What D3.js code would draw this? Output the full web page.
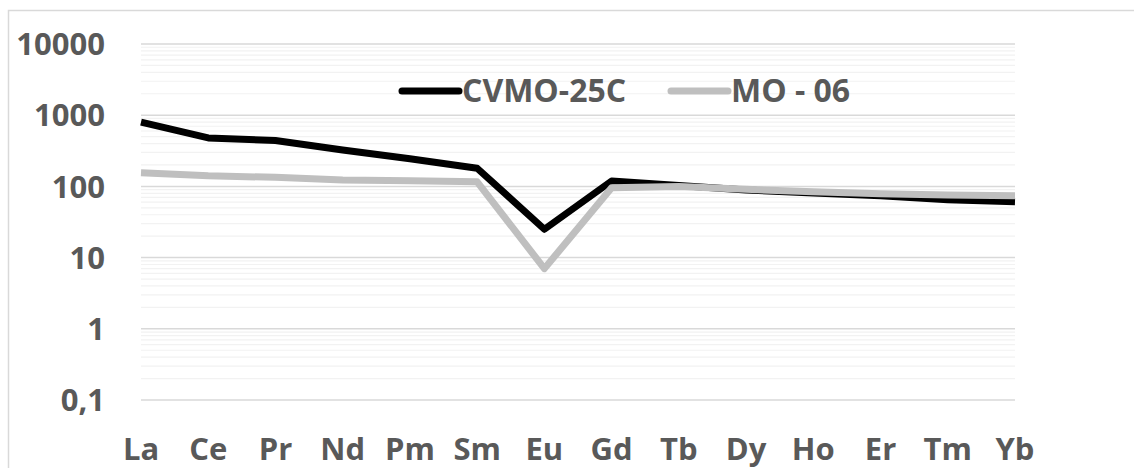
<!DOCTYPE html>
<html lang="en">
<head>
    <meta charset="UTF-8">
    <title>REE pattern</title>
    <style>
        body {
            margin: 0;
            padding: 0;
            overflow: hidden;
            background-color: #ffffff;
        }
        text {
            font-family: "Open Sans", "Noto Sans", sans-serif;
            font-weight: bold;
            fill: #595959;
        }
    </style>
</head>
<body>
    <div id="chart"></div>

    <script src="https://d3js.org/d3.v7.min.js"></script>
    <script>
        // Data
        const elements = ["La", "Ce", "Pr", "Nd", "Pm", "Sm", "Eu", "Gd", "Tb", "Dy", "Ho", "Er", "Tm", "Yb"];
        const cvmo25c = [800, 480, 440, 325, 245, 180, 25, 119, 103, 89, 81, 74, 65, 61];
        const mo06 = [156, 141, 134, 123, 120, 116, 7, 96, 100, 91, 84, 79, 76, 74];
        const yTicks = [0.1, 1, 10, 100, 1000, 10000];
        const yTickLabels = ["0,1", "1", "10", "100", "1000", "10000"];

        const series = [
            { name: "CVMO-25C", values: cvmo25c, color: "#000000" },
            { name: "MO - 06", values: mo06, color: "#bfbfbf" }
        ];

        const width = 1134;
        const height = 468;
        const margin = { left: 141, right: 1015, top: 44, bottom: 400 };

        const svg = d3.select("#chart")
            .append("svg")
            .attr("width", width)
            .attr("height", height);

        // chart frame (runs off the right and bottom edge in the reference)
        svg.append("rect")
            .attr("x", 8.5)
            .attr("y", 10.5)
            .attr("width", 1200)
            .attr("height", 600)
            .attr("fill", "none")
            .attr("stroke", "#d9d9d9")
            .attr("stroke-width", 1.5);

        const x = d3.scalePoint()
            .domain(elements)
            .range([margin.left, margin.right]);

        const y = d3.scaleLog()
            .domain([0.1, 10000])
            .range([margin.bottom, margin.top]);

        // minor gridlines (2..9 of each decade)
        const minor = [];
        for (let d = 0.1; d < 10000; d *= 10) {
            for (let k = 2; k <= 9; k++) minor.push(+(d * k).toPrecision(3));
        }

        const grid = svg.append("g");
        grid.selectAll(".minor")
            .data(minor)
            .enter()
            .append("line")
            .attr("x1", margin.left)
            .attr("x2", margin.right)
            .attr("y1", d => y(d))
            .attr("y2", d => y(d))
            .attr("stroke", "#f2f2f2")
            .attr("stroke-width", 1.2);

        grid.selectAll(".major")
            .data(yTicks)
            .enter()
            .append("line")
            .attr("x1", margin.left)
            .attr("x2", margin.right)
            .attr("y1", d => y(d))
            .attr("y2", d => y(d))
            .attr("stroke", "#d9d9d9")
            .attr("stroke-width", 1.5);

        // y axis labels
        svg.append("g")
            .selectAll("text")
            .data(yTicks)
            .enter()
            .append("text")
            .attr("x", 105)
            .attr("y", d => y(d))
            .attr("dy", "0.36em")
            .attr("text-anchor", "end")
            .attr("font-size", 31)
            .text((d, i) => yTickLabels[i]);

        // x axis labels
        svg.append("g")
            .selectAll("text")
            .data(elements)
            .enter()
            .append("text")
            .attr("x", d => x(d))
            .attr("y", 460)
            .attr("text-anchor", "middle")
            .attr("font-size", 31)
            .text(d => d);

        // lines
        const line = d3.line()
            .x((d, i) => x(elements[i]))
            .y(d => y(d));

        svg.append("g")
            .selectAll("path")
            .data(series)
            .enter()
            .append("path")
            .attr("d", d => line(d.values))
            .attr("fill", "none")
            .attr("stroke", d => d.color)
            .attr("stroke-width", 7)
            .attr("stroke-linejoin", "round");

        // legend
        const legendPos = [402, 671];
        const legend = svg.append("g")
            .selectAll("g")
            .data(series)
            .enter()
            .append("g")
            .attr("transform", (d, i) => `translate(${legendPos[i]},91)`);

        legend.append("line")
            .attr("x1", 0)
            .attr("x2", 57)
            .attr("stroke", d => d.color)
            .attr("stroke-width", 7)
            .attr("stroke-linecap", "round");

        legend.append("text")
            .attr("x", 60)
            .attr("y", 11)
            .attr("font-size", 32)
            .text(d => d.name);
    </script>
</body>
</html>
